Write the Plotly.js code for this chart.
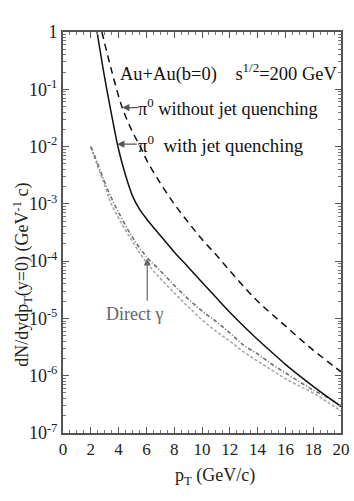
<!DOCTYPE html>
<html><head><meta charset="utf-8">
<script src="https://cdn.plot.ly/plotly-3.0.1.min.js"></script>
<style>html,body{margin:0;padding:0;background:#fff}#chart{width:354px;height:501px}</style>
</head><body><div id="chart"></div>
<script>
// pi0 with jet quenching (solid)
const ptWith = [2.45, 3.0, 3.5, 4.0, 4.5, 5.0, 5.5, 6.0, 7.0, 8.0, 9.0, 10, 11, 12, 13, 14, 15, 16, 17, 18, 19, 20];
const yWith  = [1, 1.58e-1, 3.55e-2, 8.9e-3, 3.16e-3, 1.38e-3, 8.1e-4, 5.5e-4, 2.8e-4, 1.45e-4, 7.9e-5, 4.3e-5, 2.35e-5, 1.28e-5, 7.3e-6, 4.3e-6, 2.6e-6, 1.58e-6, 1.0e-6, 6.5e-7, 4.3e-7, 2.9e-7];
// pi0 without jet quenching (dashed)
const ptWithout = [2.8, 3.5, 4.26, 5.0, 5.56, 6, 7, 8, 9, 10, 11, 12, 13, 14, 15, 16, 17, 18, 19, 20];
const yWithout  = [1, 2.1e-1, 4.8e-2, 1.8e-2, 1.0e-2, 5.9e-3, 2.3e-3, 1.0e-3, 4.8e-4, 2.4e-4, 1.3e-4, 6.8e-5, 3.6e-5, 2.0e-5, 1.2e-5, 7.4e-6, 4.5e-6, 2.8e-6, 1.8e-6, 1.17e-6];
// direct photon (two nearby curves)
const ptGamma = [2.0, 2.5, 3.0, 3.4, 4, 5, 6, 7, 8, 9, 10, 11, 12, 13, 14, 15, 16, 17, 18, 19, 20];
const yGammaA = [1.0e-2, 5.0e-3, 2.4e-3, 1.4e-3, 7.1e-4, 2.6e-4, 1.2e-4, 6.8e-5, 3.8e-5, 2.2e-5, 1.35e-5, 8.9e-6, 5.6e-6, 3.4e-6, 2.4e-6, 1.6e-6, 1.12e-6, 7.9e-7, 5.6e-7, 4.2e-7, 3.0e-7];
const yGammaB = [1.0e-2, 4.5e-3, 2.1e-3, 1.1e-3, 5.6e-4, 2.2e-4, 9.5e-5, 5.0e-5, 2.8e-5, 1.6e-5, 9.5e-6, 6.0e-6, 4.0e-6, 2.6e-6, 1.8e-6, 1.26e-6, 8.9e-7, 6.6e-7, 5.0e-7, 3.5e-7, 2.4e-7];
// axis ticks
const xTickVals = [0, 2, 4, 6, 8, 10, 12, 14, 16, 18, 20];
const yTickVals = [1e-7, 1e-6, 1e-5, 1e-4, 1e-3, 1e-2, 1e-1, 1];
const yTickText = ['10<sup>-7</sup>', '10<sup>-6</sup>', '10<sup>-5</sup>', '10<sup>-4</sup>', '10<sup>-3</sup>', '10<sup>-2</sup>', '10<sup>-1</sup>', '1'];

// minor ticks of the log axis (2..9 x each decade)
const yMinor = [];
for (let d = -7; d < 0; d++) for (let m = 2; m <= 9; m++) yMinor.push(m * Math.pow(10, d));

const F = 'Liberation Serif';
const traces = [
  {x: ptGamma, y: yGammaB, mode: 'lines', line: {color: '#a8a8a8', width: 1.6, dash: '3px,2px', shape: 'spline'}, hoverinfo: 'none'},
  {x: ptGamma, y: yGammaA, mode: 'lines', line: {color: '#707070', width: 1.6, dash: '4px,2px,1px,2px', shape: 'spline'}, hoverinfo: 'none'},
  {x: ptWithout, y: yWithout, mode: 'lines', line: {color: '#111', width: 1.5, dash: '7px,5px', shape: 'spline'}, hoverinfo: 'none'},
  {x: ptWith, y: yWith, mode: 'lines', line: {color: '#111', width: 1.5, shape: 'spline'}, hoverinfo: 'none'}
];
const layout = {
  width: 354, height: 501,
  margin: {l: 63, r: 13, t: 32, b: 68},
  paper_bgcolor: '#fff', plot_bgcolor: '#fff',
  showlegend: false,
  font: {family: F, size: 16, color: '#222'},
  xaxis: {
    range: [0, 20], tickvals: xTickVals, ticks: 'inside', ticklen: 6, tickwidth: 1, tickcolor: '#555',
    minor: {dtick: 0.5, ticks: 'inside', ticklen: 3, tickcolor: '#777', showgrid: false},
    showline: true, linecolor: '#555', linewidth: 2, mirror: 'allticks', showgrid: false, zeroline: false,
    tickfont: {family: F, size: 17, color: '#222'}
  },
  yaxis: {
    type: 'log', range: [-7, 0], tickvals: yTickVals, ticktext: yTickText,
    ticks: 'inside', ticklen: 6, tickwidth: 1, tickcolor: '#555',
    minor: {tickvals: yMinor, ticks: 'inside', ticklen: 3, tickcolor: '#777', showgrid: false},
    showline: true, linecolor: '#555', linewidth: 2, mirror: 'allticks', showgrid: false, zeroline: false,
    tickfont: {family: F, size: 18, color: '#222'}
  },
  annotations: [
    {xref: 'paper', yref: 'paper', x: 0.547, y: -0.075, xanchor: 'center', yanchor: 'top', showarrow: false,
     text: 'p<sub>T</sub> (GeV/c)', font: {family: F, size: 18, color: '#222'}},
    {xref: 'paper', yref: 'paper', x: -0.148, y: 0.394, xanchor: 'center', yanchor: 'middle', showarrow: false, textangle: -90,
     text: 'dN/dydp<sub>T</sub>(y=0) (GeV<sup>-1</sup> c)', font: {family: F, size: 18, color: '#222'}},
    {xref: 'paper', yref: 'paper', x: 0.997, y: 0.9, xanchor: 'right', yanchor: 'middle', showarrow: false,
     text: 'Au+Au(b=0)    s<sup>1/2</sup>=200 GeV', font: {family: F, size: 18.5, color: '#111'}},
    {x: 4.26, y: Math.log10(4.8e-2), xref: 'x', yref: 'y', showarrow: false, xshift: 14, xanchor: 'left', yanchor: 'middle',
     text: 'π<sup>0</sup> without jet quenching', font: {family: F, size: 18.3, color: '#111'}},
    {x: 3.9, y: Math.log10(1.1e-2), xref: 'x', yref: 'y', showarrow: false, xshift: 19, xanchor: 'left', yanchor: 'middle',
     text: 'π<sup>0</sup>  with jet quenching', font: {family: F, size: 18.8, color: '#111'}},
    {x: 6.06, y: Math.log10(1.12e-4), xref: 'x', yref: 'y', showarrow: false, yshift: -44, xshift: -13, xanchor: 'center', yanchor: 'top',
     text: 'Direct γ', font: {family: F, size: 18, color: '#666'}},
    {x: 4.26, y: Math.log10(4.8e-2), xref: 'x', yref: 'y', ax: 17, ay: 0, showarrow: true, arrowhead: 2, arrowsize: 1.2, arrowwidth: 1.2, arrowcolor: '#555', text: ''},
    {x: 3.9, y: Math.log10(1.1e-2), xref: 'x', yref: 'y', ax: 21, ay: 0, showarrow: true, arrowhead: 2, arrowsize: 1.2, arrowwidth: 1.2, arrowcolor: '#555', text: ''},
    {x: 6.06, y: Math.log10(1.12e-4), xref: 'x', yref: 'y', ax: 0, ay: 44, showarrow: true, arrowhead: 2, arrowsize: 1.2, arrowwidth: 1.2, arrowcolor: '#666', text: ''}
  ]
};
Plotly.newPlot('chart', traces, layout, {displayModeBar: false, staticPlot: true});
</script>
</body></html>
